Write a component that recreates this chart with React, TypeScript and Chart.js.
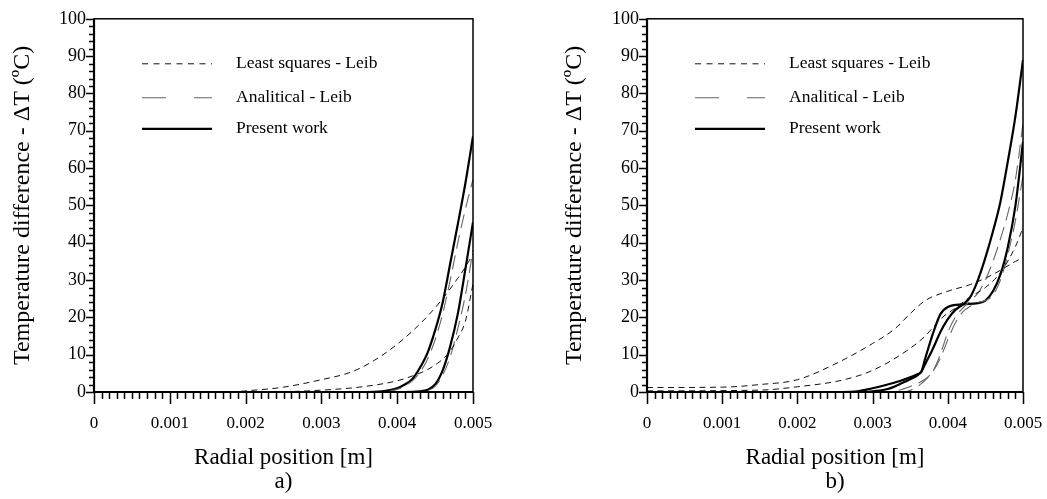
import React, { useEffect, useRef } from "react";
import { Chart, registerables } from "chart.js";

Chart.register(...registerables);

const FONT = "'Liberation Serif', 'Times New Roman', serif";

// ---------- axis setup ----------
const X_MIN = 0;
const X_MAX = 0.005;
const X_MAJOR_STEP = 0.001;
const X_MINOR_COUNT = 50; // minor ticks every 0.0001
const Y_MIN = 0;
const Y_MAX = 100;
const Y_MAJOR_STEP = 10;
const Y_MINOR_STEP = 2;

const X_TITLE = "Radial position [m]";
const Y_TITLE = "Temperature difference - \u0394T (\u00baC)";
const LEGEND_LABELS = ["Least squares - Leib", "Analitical - Leib", "Present work"];

// ---------- panel a) ----------
const aPresent1X = [0, 0.0036, 0.0038, 0.0039, 0.004, 0.0041, 0.0042, 0.0043, 0.0044, 0.0045, 0.0046, 0.0047, 0.0048, 0.0049, 0.005];
const aPresent1Y = [0, 0, 0.2, 0.5, 1.0, 2.0, 3.5, 6.5, 10.5, 16.5, 24, 34.5, 45, 56, 68.5];
const aPresent2X = [0, 0.0041, 0.0043, 0.0044, 0.0045, 0.0046, 0.0047, 0.0048, 0.0049, 0.005];
const aPresent2Y = [0, 0, 0.2, 0.6, 2.0, 5.8, 12.3, 21, 33, 45.5];
const aAnal1X = [0, 0.0038, 0.004, 0.0041, 0.0042, 0.0043, 0.0044, 0.0045, 0.0046, 0.0047, 0.0048, 0.0049, 0.005];
const aAnal1Y = [0, 0, 0.7, 1.6, 3.0, 5.3, 8.8, 14, 21, 30, 40, 49, 57];
const aAnal2X = [0, 0.0042, 0.0044, 0.0045, 0.0046, 0.0047, 0.0048, 0.0049, 0.005];
const aAnal2Y = [0, 0, 0.4, 1.5, 4.5, 9.5, 17, 26, 38];
const aLsq1X = [0, 0.0018, 0.002, 0.0025, 0.003, 0.0034, 0.0037, 0.004, 0.0042, 0.0044, 0.0046, 0.0048, 0.0049, 0.005];
const aLsq1Y = [0, 0, 0.3, 1.3, 3.3, 5.4, 8.5, 12.8, 16.3, 20.3, 25, 30.5, 33.5, 37];
const aLsq2X = [0, 0.0025, 0.003, 0.0035, 0.004, 0.0042, 0.0044, 0.0046, 0.0047, 0.0048, 0.0049, 0.005];
const aLsq2Y = [0, 0.1, 0.5, 1.3, 3.0, 4.3, 6.0, 8.8, 11, 14.5, 19, 29];

// ---------- panel b) ----------
const bPresent1X = [0, 0.0026, 0.0028, 0.003, 0.0032, 0.0034, 0.0036, 0.00365, 0.0037, 0.0038, 0.0039, 0.004, 0.0042, 0.0044, 0.0045, 0.0046, 0.0047, 0.0048, 0.0049, 0.005];
const bPresent1Y = [0, 0, 0.2, 1.0, 2.0, 3.2, 4.8, 5.5, 9, 15.5, 20.8, 22.8, 23.5, 23.8, 24.5, 27, 31.5, 39, 50, 67];
const bPresent2X = [0, 0.0029, 0.003, 0.0032, 0.0034, 0.0036, 0.00365, 0.0037, 0.0038, 0.0039, 0.004, 0.0041, 0.0042, 0.0043, 0.0044, 0.0045, 0.0046, 0.0047, 0.0048, 0.0049, 0.005];
const bPresent2Y = [0, 0, 0.2, 0.8, 2.5, 4.5, 5.5, 7.5, 11.5, 16, 19.5, 22, 23.5, 25.5, 30, 36, 43, 51, 62, 74, 89];
const bAnal1X = [0, 0.0032, 0.0035, 0.0037, 0.0038, 0.0039, 0.004, 0.0041, 0.0042, 0.0043, 0.0044, 0.0045, 0.0046, 0.0047, 0.0048, 0.0049, 0.005];
const bAnal1Y = [0, 0, 1.5, 3.5, 5.5, 10, 16, 20, 22.5, 24.5, 26.5, 30, 35, 41, 48, 57, 72];
const bAnal2X = [0, 0.0034, 0.0036, 0.0038, 0.0039, 0.004, 0.0041, 0.0042, 0.0043, 0.0044, 0.0045, 0.0046, 0.0047, 0.0048, 0.0049, 0.005];
const bAnal2Y = [0, 0, 1.5, 5.5, 9, 14, 18.5, 21.5, 23, 24, 24.5, 26, 30, 37, 46, 58];
const bLsq1X = [0, 0.001, 0.0015, 0.002, 0.0025, 0.003, 0.0033, 0.0035, 0.0037, 0.004, 0.0043, 0.0046, 0.0049, 0.005];
const bLsq1Y = [1.2, 1.3, 2.0, 3.3, 7.5, 13, 17, 21, 24.5, 27, 28.8, 31.5, 35, 36];
const bLsq2X = [0, 0.0015, 0.002, 0.0026, 0.003, 0.00345, 0.0037, 0.0039, 0.0041, 0.0043, 0.0045, 0.0047, 0.0049, 0.005];
const bLsq2Y = [0.3, 0.5, 1.4, 3.2, 5.8, 11, 15, 19.5, 22.5, 25.5, 28, 32, 39, 44];

type Kind = "lsq" | "anal" | "present";

const STYLE: Record<Kind, { color: string; width: number; dash: number[]; legendDash: number[] }> = {
  lsq: { color: "#111", width: 1, dash: [6, 4.5], legendDash: [6, 5.5] },
  anal: { color: "#666", width: 1.1, dash: [14, 7], legendDash: [24, 28] },
  present: { color: "#000", width: 2.2, dash: [], legendDash: [] },
};

function pts(xs: number[], ys: number[]) {
  return xs.map((x, i) => ({ x, y: ys[i] }));
}

function ds(kind: Kind, xs: number[], ys: number[]) {
  const s = STYLE[kind];
  return {
    data: pts(xs, ys),
    borderColor: s.color,
    borderWidth: s.width,
    borderDash: s.dash,
    pointRadius: 0,
    fill: false,
    cubicInterpolationMode: "monotone",
  };
}

const panelA = [
  ds("lsq", aLsq1X, aLsq1Y),
  ds("lsq", aLsq2X, aLsq2Y),
  ds("anal", aAnal1X, aAnal1Y),
  ds("anal", aAnal2X, aAnal2Y),
  ds("present", aPresent1X, aPresent1Y),
  ds("present", aPresent2X, aPresent2Y),
];

const panelB = [
  ds("lsq", bLsq1X, bLsq1Y),
  ds("lsq", bLsq2X, bLsq2Y),
  ds("anal", bAnal1X, bAnal1Y),
  ds("anal", bAnal2X, bAnal2Y),
  ds("present", bPresent1X, bPresent1Y),
  ds("present", bPresent2X, bPresent2Y),
];

const framePlugin = {
  id: "frameTicksLegend",
  afterDatasetsDraw(chart: any) {
    const { ctx, chartArea: a, scales } = chart;
    const xs = scales.x;
    const ys = scales.y;
    ctx.save();
    ctx.setLineDash([]);
    ctx.strokeStyle = "#000";
    // box
    ctx.lineWidth = 1.5;
    ctx.strokeRect(a.left, a.top, a.right - a.left, a.bottom - a.top);
    ctx.lineWidth = 2.2;
    ctx.beginPath();
    ctx.moveTo(a.left, a.top);
    ctx.lineTo(a.left, a.bottom);
    ctx.lineTo(a.right, a.bottom);
    ctx.stroke();
    // y ticks
    ctx.lineWidth = 1.5;
    ctx.beginPath();
    const nY = Math.round((Y_MAX - Y_MIN) / Y_MINOR_STEP);
    for (let i = 0; i <= nY; i++) {
      const v = Y_MIN + i * Y_MINOR_STEP;
      const p = Math.round(ys.getPixelForValue(v)) + 0.5;
      const major = v % Y_MAJOR_STEP === 0;
      ctx.moveTo(a.left, p);
      ctx.lineTo(a.left - (major ? 8 : 5), p);
    }
    // x ticks
    for (let i = 0; i <= X_MINOR_COUNT; i++) {
      const v = X_MIN + (i * (X_MAX - X_MIN)) / X_MINOR_COUNT;
      const p = Math.round(xs.getPixelForValue(v)) + 0.5;
      const major = i % 10 === 0;
      ctx.moveTo(p, a.bottom);
      ctx.lineTo(p, a.bottom + (major ? 12 : 7));
    }
    ctx.stroke();
    // legend
    const kinds: Kind[] = ["lsq", "anal", "present"];
    const rows = [45, 79, 110];
    ctx.font = `17.5px ${FONT}`;
    ctx.fillStyle = "#000";
    ctx.textBaseline = "middle";
    ctx.textAlign = "left";
    kinds.forEach((k, i) => {
      const s = STYLE[k];
      const yy = a.top + rows[i];
      ctx.beginPath();
      ctx.strokeStyle = s.color;
      ctx.lineWidth = s.width;
      ctx.setLineDash(s.legendDash);
      ctx.moveTo(a.left + 48, yy);
      ctx.lineTo(a.left + 118, yy);
      ctx.stroke();
      ctx.setLineDash([]);
      ctx.fillText(LEGEND_LABELS[i], a.left + 142, yy);
    });
    ctx.restore();
  },
};

type PanelProps = {
  datasets: any[];
  tag: string;
  width: number;
  yAxisWidth: number;
  padRight: number;
  yTitlePad: number;
  left: number;
};

function Panel({ datasets, tag, width, yAxisWidth, padRight, yTitlePad, left }: PanelProps) {
  const ref = useRef<HTMLCanvasElement | null>(null);
  useEffect(() => {
    if (!ref.current) return;
    const chart = new Chart(ref.current, {
      type: "line",
      data: { datasets },
      plugins: [framePlugin],
      options: {
        responsive: false,
        animation: false,
        devicePixelRatio: 1,
        layout: { padding: { top: 15, right: padRight, left: 0, bottom: 0 } },
        plugins: { legend: { display: false }, tooltip: { enabled: false } },
        scales: {
          x: {
            type: "linear",
            min: X_MIN,
            max: X_MAX,
            grid: { display: false, drawTicks: false },
            border: { display: false },
            ticks: {
              stepSize: X_MAJOR_STEP,
              padding: 21,
              maxRotation: 0,
              autoSkip: false,
              color: "#000",
              font: { family: FONT, size: 17 },
              callback: (v: any) => (Number(v) === 0 ? "0" : Number(v).toFixed(3)),
            },
            title: {
              display: true,
              text: [X_TITLE, tag],
              color: "#000",
              font: { family: FONT, size: 23, lineHeight: 1.05 },
              padding: { top: 0, bottom: 5 },
            },
            afterFit: (s: any) => {
              s.height = 107;
              s.paddingLeft = 0;
              s.paddingRight = 0;
            },
          },
          y: {
            type: "linear",
            min: Y_MIN,
            max: Y_MAX,
            grid: { display: false, drawTicks: false },
            border: { display: false },
            ticks: {
              stepSize: Y_MAJOR_STEP,
              padding: 8,
              color: "#000",
              font: { family: FONT, size: 18 },
            },
            title: {
              display: true,
              text: Y_TITLE,
              color: "#000",
              font: { family: FONT, size: 24, lineHeight: 1.2 },
              padding: { top: yTitlePad, bottom: 0 },
            },
            afterFit: (s: any) => {
              s.width = yAxisWidth;
            },
          },
        },
      } as any,
    });
    return () => chart.destroy();
  }, []);
  return (
    <canvas
      ref={ref}
      width={width}
      height={499}
      style={{ position: "absolute", left, top: 0, width, height: 499 }}
    />
  );
}

export default function App() {
  return (
    <div style={{ position: "fixed", left: 0, top: 0, width: 1047, height: 499, background: "#fff" }}>
      <Panel datasets={panelA} tag="a)" width={523} yAxisWidth={94} padRight={50} yTitlePad={8} left={0} />
      <Panel datasets={panelB} tag="b)" width={524} yAxisWidth={124} padRight={24} yTitlePad={37} left={523} />
    </div>
  );
}
